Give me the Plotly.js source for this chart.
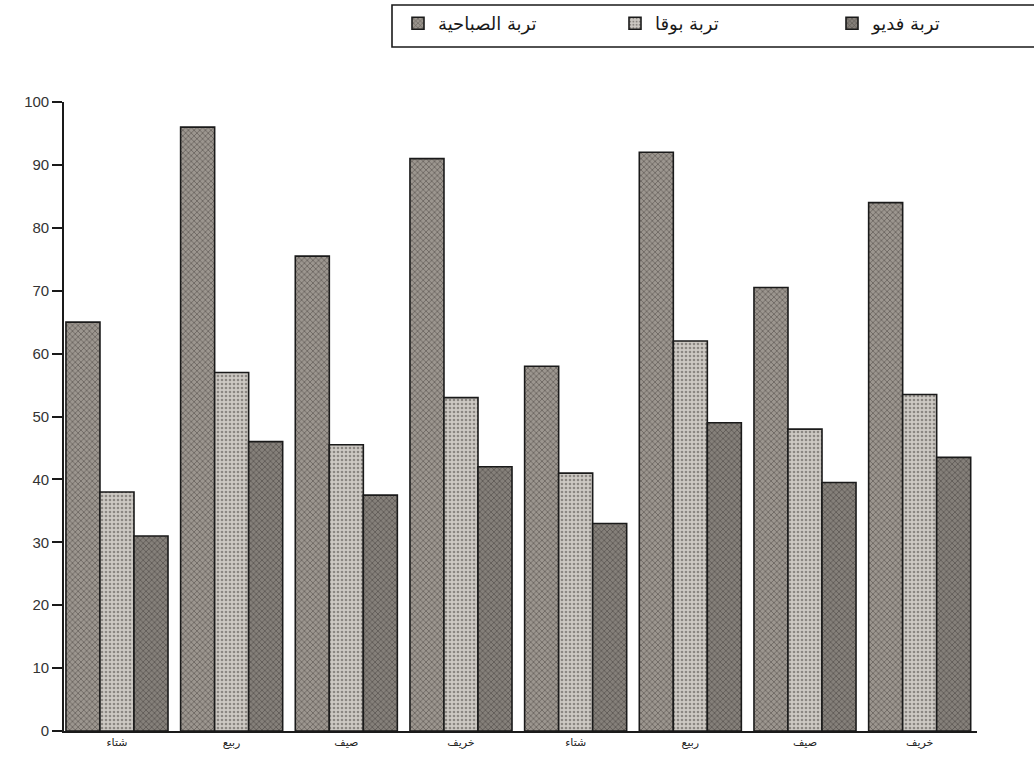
<!DOCTYPE html>
<html>
<head>
<meta charset="utf-8">
<script src="https://cdn.plot.ly/plotly-3.0.1.min.js"></script>
<style>html,body{margin:0;padding:0;background:#fff;}#chart{width:1034px;height:773px;}</style>
</head>
<body>
<div id="chart"></div>
<script>
// Data
var seasons = ["شتاء", "ربيع", "صيف", "خريف", "شتاء", "ربيع", "صيف", "خريف"];
var seriesNames = ["تربة الصباحية", "تربة بوقا", "تربة فديو"];
var sabahiya = [65, 96, 75.5, 91, 58, 92, 70.5, 84];
var bouga    = [38, 57, 45.5, 53, 41, 62, 48, 53.5];
var fadyo    = [31, 46, 37.5, 42, 33, 49, 39.5, 43.5];
var yTicks = [0, 10, 20, 30, 40, 50, 60, 70, 80, 90, 100];

var idx = seasons.map(function (_, i) { return i; });

function barTrace(name, vals, bg, fg, shape) {
  return {
    type: "bar",
    name: name,
    x: idx,
    y: vals,
    marker: {
      color: bg,
      line: { color: "#1a1a1a", width: 1.6 },
      pattern: { shape: shape, bgcolor: bg, fgcolor: fg, size: 4, solidity: 0.35, fillmode: "overlay" }
    },
    hoverinfo: "y"
  };
}

var data = [
  barTrace(seriesNames[0], sabahiya, "#9c968f", "#2e2a27", "x"),
  barTrace(seriesNames[1], bouga, "#cdc9c3", "#4a4642", "."),
  barTrace(seriesNames[2], fadyo, "#85807a", "#2e2a27", "x")
];

var W = 1034, H = 773;
var ml = 64, mr = 57, mt = 102, mb = 42;
var pw = W - ml - mr, ph = H - mt - mb;
function px2x(p) { return (p - ml) / pw; }
function py2y(p) { return (H - mb - p) / ph; }

var layout = {
  width: W,
  height: H,
  margin: { l: ml, r: mr, t: mt, b: mb },
  paper_bgcolor: "#ffffff",
  plot_bgcolor: "#ffffff",
  barmode: "group",
  bargap: 0.11,
  bargroupgap: 0,
  font: { family: "Liberation Sans, DejaVu Sans, sans-serif", color: "#2a2a2a" },
  showlegend: true,
  legend: {
    orientation: "h",
    xref: "container",
    yref: "container",
    x: 398 / W,
    y: 1 - 5 / H,
    xanchor: "left",
    yanchor: "top",
    entrywidth: 172,
    entrywidthmode: "pixels",
    itemwidth: 30,
    font: { family: "DejaVu Sans, sans-serif", size: 18, color: "#1a1a1a" },
    bgcolor: "rgba(0,0,0,0)",
    borderwidth: 0,
    traceorder: "normal"
  },
  xaxis: {
    tickmode: "array",
    tickvals: idx,
    ticktext: seasons,
    range: [-0.462, 7.5],
    showline: true,
    linecolor: "#1a1a1a",
    linewidth: 1.6,
    ticks: "",
    showgrid: false,
    zeroline: false,
    tickfont: { family: "DejaVu Sans, sans-serif", size: 11, color: "#222" }
  },
  yaxis: {
    range: [0, 100],
    tickmode: "array",
    tickvals: yTicks,
    showline: true,
    linecolor: "#1a1a1a",
    linewidth: 1.6,
    ticks: "outside",
    ticklen: 10,
    tickwidth: 1.5,
    tickcolor: "#1a1a1a",
    showgrid: false,
    zeroline: false,
    tickfont: { family: "Liberation Sans, sans-serif", size: 15, color: "#333" }
  },
  shapes: [
    {
      type: "rect",
      xref: "paper",
      yref: "paper",
      x0: px2x(392), x1: px2x(1040),
      y0: py2y(47), y1: py2y(5),
      line: { color: "#1a1a1a", width: 1.6 },
      fillcolor: "rgba(0,0,0,0)",
      layer: "below"
    }
  ]
};

Plotly.newPlot("chart", data, layout, { displayModeBar: false, responsive: false });
</script>
</body>
</html>
